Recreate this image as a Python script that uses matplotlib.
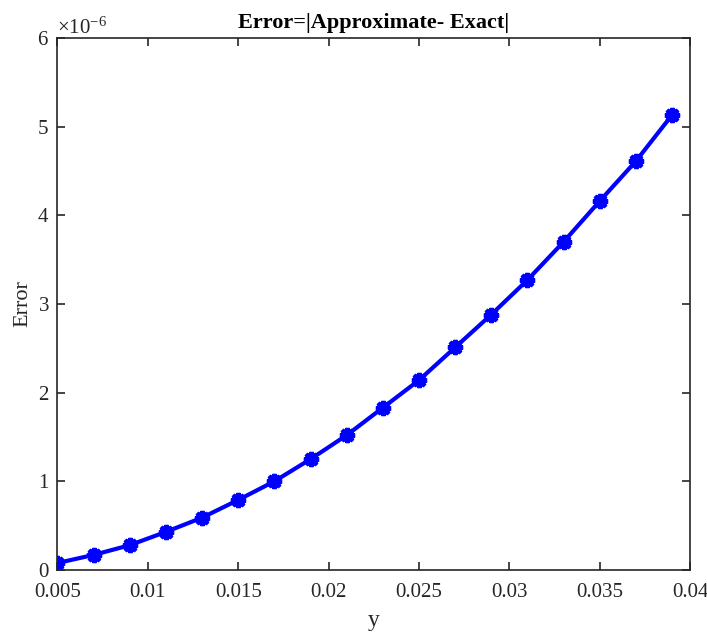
import numpy as np
import matplotlib
matplotlib.use('Agg')
from matplotlib import pyplot as plt
from matplotlib.ticker import ScalarFormatter, FormatStrFormatter, MultipleLocator

plt.rcParams['font.family'] = ['Liberation Serif', 'DejaVu Serif']
plt.rcParams['mathtext.fontset'] = 'custom'
plt.rcParams['mathtext.rm'] = 'Liberation Serif'
plt.rcParams['mathtext.it'] = 'Liberation Serif:italic'

y_points = [0.005, 0.007, 0.009, 0.011, 0.013, 0.015, 0.017, 0.019, 0.021,
            0.023, 0.025, 0.027, 0.029, 0.031, 0.033, 0.035, 0.037, 0.039]
error_vals = [0.079e-6, 0.17e-6, 0.28e-6, 0.43e-6, 0.59e-6, 0.79e-6, 1.00e-6,
              1.25e-6, 1.52e-6, 1.83e-6, 2.14e-6, 2.51e-6, 2.88e-6, 3.27e-6,
              3.70e-6, 4.16e-6, 4.61e-6, 5.13e-6]

text_color = '#262626'

fig = plt.figure(figsize=(7.07, 6.32), dpi=100)
ax = fig.add_axes([0.0813, 0.0981, 0.8947, 0.8418])

ax.plot(y_points, error_vals, color='blue', linewidth=3,
        marker=(8, 2, 0), markersize=11, markeredgewidth=3)

ax.set_xlim(0.005, 0.04)
ax.set_ylim(0, 6e-6)
ax.xaxis.set_major_locator(MultipleLocator(0.005))
ax.xaxis.set_major_formatter(FormatStrFormatter('%g'))
ax.yaxis.set_major_locator(MultipleLocator(1e-6))
fmt = ScalarFormatter(useMathText=True)
fmt.set_powerlimits((0, 0))
ax.yaxis.set_major_formatter(fmt)
ax.yaxis.get_offset_text().set_fontsize(15)
ax.yaxis.get_offset_text().set_color(text_color)

ax.tick_params(direction='in', length=6, width=1.2, top=True, right=True,
               labelsize=15, colors=text_color)
ax.tick_params(axis='x', pad=9)
ax.tick_params(axis='y', pad=6)
for side in ['top', 'bottom', 'left', 'right']:
    ax.spines[side].set_linewidth(1.2)
    ax.spines[side].set_color(text_color)

ax.set_title('Error=|Approximate- Exact|', fontsize=16, fontweight='bold', pad=7)
ax.set_xlabel('y', fontsize=17, color=text_color, labelpad=6)
ax.set_ylabel('Error', fontsize=16, color=text_color, labelpad=3)

fig.savefig('out.png', dpi=100)
